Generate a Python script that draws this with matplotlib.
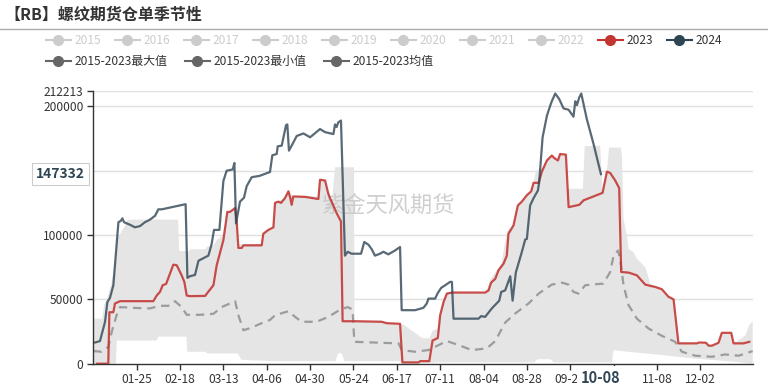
import numpy as np
import pandas as pd
import matplotlib
matplotlib.use("Agg")
import matplotlib.pyplot as plt
from matplotlib.lines import Line2D

plt.rcParams['font.family'] = ['Noto Sans CJK SC', 'DejaVu Sans']

# x categories: every day of a (leap) year as mm-dd, ticks every 24 days
days = pd.date_range("2024-01-01", "2024-12-31").strftime("%m-%d").tolist()
tick_idx = list(range(24, 337, 24))

# ---- series, (day index, value in thousands) ----
red_day = [2, 8.3, 8.9, 11.1, 12, 14.8, 33.2, 35.1, 36.9, 38.4, 40.3, 44.3, 46.2, 48.9, 50.4, 51.7, 53.5,
           61.9, 63.7, 66.5, 68.3, 72, 74.2, 75.7, 78.5, 79.4, 80.3, 82.2, 83.1, 93.2, 94.1, 96.9, 99.7,
           100.6, 102.4, 103.9, 106.1, 108, 108.9, 109.8, 110.7, 117.2, 124.6, 125.5, 128.3, 130.1, 132,
           134.7, 137.1, 138, 144.9, 159.6, 162.4, 169.8, 171.1, 180, 181, 186, 187.8, 190.7, 192, 193.9,
           195.7, 198.5, 216.9, 218.8, 220.2, 222.5, 224.3, 227.1, 228.9, 229.8, 232.6, 235, 237.2, 240,
           242.4, 243.7, 246.5, 248.3, 251.1, 253.8, 255.3, 257.2, 258.4, 261.6, 263.1, 269, 271.4, 281.9,
           284.3, 286.1, 288.9, 291.1, 292.2, 296.3, 300.9, 305.5, 308.3, 311, 314.7, 318.4, 321.2, 323.9,
           334.1, 335.4, 339.1, 340.6, 342.4, 346.1, 347.9, 353.1, 354.4, 359.9, 363.1]
red_val = [0, 0, 40, 40, 46.8, 48.6, 48.6, 53, 55.8, 61, 62, 77, 76.5, 68.7, 63.6, 53, 52.5,
           52.7, 56, 61, 76.5, 96, 118, 118, 121, 110, 90, 90, 92, 92, 101, 104, 106,
           125, 126, 125, 128.7, 134, 129.5, 123.5, 130, 129.7, 128, 143, 142.4, 132, 125.6,
           117, 110.6, 33, 33, 32.6, 31.5, 31, 1, 1, 2, 2, 18, 20, 37.7, 48,
           54.5, 55.3, 55.3, 57, 63, 66, 72.6, 77.8, 84, 101, 107.5, 123, 126, 131,
           134, 140.6, 140.6, 149.3, 158, 161.8, 159.7, 158, 163, 162.5, 121.7, 123.5, 127, 132.8,
           149.3, 148.3, 142.4, 136.4, 71.3, 70.8, 68.7, 61.5, 60.5, 59.7, 57.9, 52, 50, 15.8,
           15.8, 16.5, 16.3, 14, 14, 16.3, 24, 24, 15.8, 15.8, 17]

blue_day = [1, 3.7, 6.5, 7.8, 9.2, 11.1, 13.9, 15.2, 16.1, 17, 20.3, 23.1, 25.9, 28.6, 31.4, 34.2, 36,
            37.9, 51.1, 52.1, 53.5, 56.3, 58.2, 60.9, 63.7, 65.5, 66.8, 69.8, 72, 73.8, 77.2, 78.1, 79,
            81.2, 83.4, 84.9, 87.7, 92, 97.8, 99.1, 101.5, 102.1, 104.3, 106.7, 107.4, 108.3, 109.8,
            112.6, 116.3, 120, 125.5, 128.3, 132.9, 133.8, 134.7, 135.6, 137.1, 139.3, 140.8, 143, 148.2,
            150, 152.3, 154.1, 155.9, 158.7, 160.6, 163.3, 167, 169.8, 170.7, 178.1, 182.7, 184.6, 185.5,
            189.2, 190.7, 192.6, 194.8, 197.5, 198.5, 199.4, 213.2, 214.7, 216.9, 220.6, 224.7, 225.8,
            228, 230.8, 232.1, 233.9, 237.2, 239.1, 240, 241.8, 243.7, 246.1, 246.8, 248.7, 251.1,
            252.9, 253.8, 255.7, 257.9, 260.3, 263.1, 265.8, 266.8, 267.7, 269, 270.1, 273.2, 276.9, 281]
blue_val = [16.5, 17.6, 32.6, 48, 51, 61, 110, 111, 113, 110, 108, 106, 107, 110, 112, 115, 120,
            120, 124, 66.7, 68, 69, 80, 82, 84, 93, 104, 104, 142, 150, 151, 156, 109,
            126, 129, 138, 145, 146, 149, 162, 163, 169, 169.5, 185.5, 186, 165.6, 169.5,
            177, 179, 176, 182.4, 180, 178.5, 186, 184, 187.6, 189, 84, 87, 85.5, 85.5,
            94.6, 92.5, 89, 84, 85.5, 87, 85, 88, 90.7, 41.6, 41.6, 43.4, 46.8, 50.6,
            50.6, 55, 59, 61, 63.6, 63.6, 35, 35, 37, 36.4, 43, 49, 55.8,
            57, 68, 49, 71, 86.8, 96.6, 97, 123, 128.7, 134.6, 141, 176, 192.8,
            200.5, 204, 210, 205.7, 198.4, 197.4, 192, 204, 201, 207, 210, 190, 170.8, 147.332]

mean_day = [0, 4.6, 8.3, 10.2, 12.9, 14.8, 22.2, 31.4, 36.9, 41.5, 45.2, 48.9, 51.7, 59.1, 66.5, 71.1,
            78.5, 80.3, 83.1, 87.7, 92.3, 97.8, 100.6, 108, 111.7, 115.3, 123.6, 130.1, 137.1, 141,
            143.5, 144.5, 169, 170.7, 178, 185.5, 187.4, 195.7, 202.2, 209.5, 217.8, 222.5, 228, 233.5,
            240.9, 246.5, 253.8, 259.4, 263.1, 265.8, 268.6, 272.3, 282.4, 286.1, 288, 290.4, 291.6,
            293.5, 296.3, 300.9, 307.3, 314.7, 322.1, 325.8, 333.2, 342.4, 349.8, 357.2, 365]
mean_val = [9.8, 9.3, 13, 24.8, 37.7, 44, 43.4, 43, 45, 45, 48.6, 44, 38, 38, 38.8, 44,
            48.6, 37.7, 26, 28, 31, 34, 37.7, 40.8, 36.4, 32.6, 32.6, 36.4, 42.4, 44,
            42, 17, 15.8, 10.6, 9.3, 10.6, 11.9, 17.6, 14.5, 10.6, 11.9, 17.6, 32, 39,
            46.8, 54.5, 61.5, 63, 61.5, 55.8, 54.5, 61, 62.3, 71.3, 84, 88, 81.7,
            61, 45.5, 35, 27.4, 21.7, 17, 9.3, 6.2, 5.4, 7.2, 6.2, 9.8]

max_day = [0, 5, 6, 8, 10, 12, 13, 15, 17, 19, 47, 47.5, 53, 54, 62, 63, 66.5, 68.3, 72, 74.2, 75.7,
           78.5, 79.4, 80.3, 93.2, 94.1, 96.9, 99.7, 100.6, 102.4, 106.1, 108, 110.7, 124.6, 125.5,
           128.3, 130.1, 132, 133.8, 144.3, 144.6, 159.6, 162.4, 169.8, 172, 176, 182, 186, 188, 191,
           192.5, 194, 195.7, 216.9, 218.5, 220, 223, 226, 228, 229, 232.6, 235, 237.2, 240, 242.4,
           243.7, 245, 247, 248.3, 251.1, 253.8, 255.3, 257.2, 258.4, 261.6, 262.3, 271, 272, 280.6,
           281.9, 284.3, 285.5, 292, 292.6, 293.5, 295.3, 296.3, 299, 300.9, 305.5, 306.5, 308.3, 311,
           314.7, 318.4, 321.2, 323.9, 334.1, 335.4, 339.1, 340.6, 342.4, 346.1, 347.9, 353.1, 354.4,
           356, 358, 361, 363, 365]
max_val = [35, 35, 46, 52, 62, 78, 98, 101, 106, 112, 112, 87.6, 87.6, 89, 89, 91, 92, 96, 100, 118, 118,
           121, 110, 93, 93, 101, 104, 106, 125, 126, 129, 134, 130, 130, 143,
           142.4, 132, 126, 152.7, 152.7, 33, 33, 31.5, 31, 30, 26, 20, 19.6, 26, 27,
           40, 49, 55, 55.3, 60, 66, 72, 78, 95, 103, 108, 123, 126, 131, 134,
           141, 150, 151, 152, 158, 161.8, 159.7, 158, 163, 162.5, 136, 136, 169, 169.5,
           132.8, 149.3, 168, 168, 162, 112.6, 99.7, 89, 86.8, 81.6, 75, 71, 62, 59.7,
           57.9, 52, 50, 15.8, 15.8, 16.5, 16.3, 14, 14, 16.3, 24, 24, 17,
           17, 19, 22, 30, 33]

min_day = [0, 12.5, 13, 35, 36, 51.5, 52, 62, 63, 80, 82, 100, 134, 135.5, 137.5, 139, 170, 172, 185,
           190, 244, 246, 253, 255, 287, 288, 296, 314.7, 333, 351, 365]
min_val = [0, 0, 18, 18, 21, 21, 9.3, 9.3, 8, 8, 3, 2, 2, 8, 8, 2, 2, 0.5, 0.5,
           1, 1, 3.5, 3.5, 1, 1, 10.5, 9.3, 6.7, 4, 2, 0]

pointer_y = 147332
pointer_x = "10-08"

title = "【RB】螺纹期货仓单季节性"
legend_row1 = ["2015", "2016", "2017", "2018", "2019", "2020", "2021", "2022", "2023", "2024"]
legend_row2 = ["2015-2023最大值", "2015-2023最小值", "2015-2023均值"]

# ---- figure ----
W, H = 768, 390
fig = plt.figure(figsize=(W / 100, H / 100), dpi=100)


def fx(x):
    return x / W


def fy(y):
    return 1 - y / H


ax = fig.add_axes([fx(93.3), fy(363.7), (752.7 - 93.3) / W, (363.7 - 90.7) / H])

k = 1000
ax.fill(np.r_[max_day, min_day[::-1]], np.r_[max_val, min_val[::-1]] * k,
        color="#e5e5e5", lw=0, zorder=1)
ax.plot(mean_day, np.array(mean_val) * k, color="#9c9c9c", lw=1.6, ls=(0, (3.8, 2.6)), zorder=3)
ax.plot(red_day, np.array(red_val) * k, color="#c23531", lw=1.6, alpha=0.88, zorder=4)
ax.plot(blue_day, np.array(blue_val) * k, color="#2f4554", lw=1.6, alpha=0.8, zorder=5)

# watermark
ax.text(fx(388), fy(206), "紫金天风期货", transform=fig.transFigure, fontsize=16,
        color="#c4c4c4", alpha=0.8, ha="center", va="center", zorder=2)

ax.set_xlim(0, 365)
ax.set_ylim(0, 212213)
for g in [50000, 100000, 150000, 200000, 212213]:
    ax.axhline(g, color="#e0e0e0", lw=1, zorder=0)

for s in ["top", "right"]:
    ax.spines[s].set_visible(False)
for s in ["left", "bottom"]:
    ax.spines[s].set_color("#333333")
    ax.spines[s].set_linewidth(1)
    ax.spines[s].set_zorder(6)

ax.set_yticks([0, 50000, 100000, 200000, 212213])
ax.set_yticklabels(["0", "50000", "100000", "200000", "212213"])
ax.set_xticks(tick_idx)
ax.set_xticklabels([days[i] if days[i] != "10-15" else "" for i in tick_idx])
ax.tick_params(axis="both", labelsize=8.6, colors="#333333", length=4, width=1, pad=3)
ax.tick_params(axis="x", pad=3)

# axis pointer labels (the 10-08 box covers the 09-21 label, as in the source chart)
ax.text(days.index(pointer_x), -0.052, pointer_x, transform=ax.get_xaxis_transform(),
        ha="center", va="center", fontsize=10.5, fontweight="bold", color="#2f4554",
        bbox=dict(fc="white", ec="none", pad=3), zorder=10)
ax.text(-0.013, pointer_y, str(pointer_y), transform=ax.get_yaxis_transform(),
        ha="right", va="center", fontsize=10, fontweight="bold", color="#2f4554",
        bbox=dict(boxstyle="square,pad=0.3", fc="white", ec="#cccccc", lw=0.8), zorder=10)

# title + rule
fig.text(fx(4), fy(15), title, fontsize=11.5, fontweight="bold", color="#333333",
         ha="left", va="center")
fig.add_artist(Line2D([0, 1], [fy(29), fy(29)], color="#aaaaaa", lw=1))

# legend (drawn by hand to match layout)
colors1 = ["#cccccc"] * 8 + ["#c23531", "#2f4554"]
for i, (lab, c) in enumerate(zip(legend_row1, colors1)):
    cx = 58 + 69 * i
    tc = "#cccccc" if c == "#cccccc" else "#333333"
    fig.add_artist(Line2D([fx(cx - 12.5), fx(cx + 12.5)], [fy(40), fy(40)], color=c, lw=1.5))
    fig.add_artist(Line2D([fx(cx)], [fy(40)], marker="o", ms=7, color=c, lw=0))
    fig.text(fx(cx + 17), fy(40), lab, fontsize=8.6, color=tc, ha="left", va="center")

for cx, lab in zip([58, 197, 336], legend_row2):
    fig.add_artist(Line2D([fx(cx - 12.5), fx(cx + 12.5)], [fy(61), fy(61)], color="#666666", lw=1.5))
    fig.add_artist(Line2D([fx(cx)], [fy(61)], marker="o", ms=7, color="#666666", lw=0))
    fig.text(fx(cx + 17), fy(61), lab, fontsize=8.6, color="#333333", ha="left", va="center")

fig.savefig("out.png", dpi=100)
